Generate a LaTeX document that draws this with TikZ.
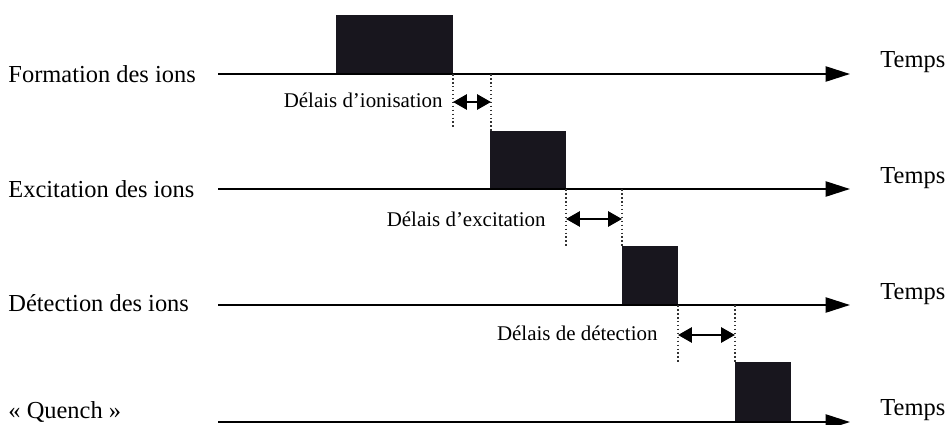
\documentclass[tikz,border=0pt]{standalone}
\usepackage{fontspec}
\setmainfont{Liberation Serif}
\usetikzlibrary{arrows.meta,positioning}
\definecolor{pulsecolor}{RGB}{24,22,30}

\begin{document}
\begin{tikzpicture}[x=0.0151cm,y=-0.0151cm,
        axis/.style={line width=0.9pt,-{Triangle[length=10.5pt,width=6.5pt]}},
        pulse/.style={fill=pulsecolor},
        marker/.style={densely dotted,line width=0.7pt,black!80},
        delay/.style={line width=1.1pt,{Triangle[length=6pt,width=6.5pt]}-{Triangle[length=6pt,width=6.5pt]}},
        rowlabel/.style={anchor=west,inner sep=0pt,font=\fontsize{10.5}{12}\selectfont},
        timelabel/.style={anchor=west,inner sep=0pt,font=\fontsize{10.5}{12}\selectfont},
        delaylabel/.style={anchor=east,inner sep=0pt,font=\fontsize{9}{11}\selectfont}]
                \useasboundingbox (0,0) rectangle (948,424);
                % time axes
                \coordinate (A1) at (218,74);  \coordinate (B1) at (850,74);
                \coordinate (A2) at (218,189); \coordinate (B2) at (850,189);
                \coordinate (A3) at (218,305); \coordinate (B3) at (850,305);
                \coordinate (A4) at (218,422); \coordinate (B4) at (850,422);
                \node[rowlabel] (formation) at (8,74) {Formation des ions};
                \node[rowlabel] (excitation) at (8,189) {Excitation des ions};
                \node[rowlabel] (detection) at (8,303) {Détection des ions};
                \node[rowlabel] (quench) at (8,412) {« Quench »};
                \node[timelabel] (temps1) at (880,62) {Temps};
                \node[timelabel] (temps2) at (880,178) {Temps};
                \node[timelabel] (temps3) at (880,294) {Temps};
                \node[timelabel] (temps4) at (880,410) {Temps};
                % pulses
                \fill[pulse] (336,15) rectangle (453,74);
                \fill[pulse] (490,131) rectangle (566,189);
                \fill[pulse] (622,246) rectangle (678,305);
                \fill[pulse] (735,362) rectangle (791,422);
                \draw[axis] (A1) -- (B1);
                \draw[axis] (A2) -- (B2);
                \draw[axis] (A3) -- (B3);
                \draw[axis] (A4) -- (B4);
                % delays
                \coordinate (ion1) at (453,74);  \coordinate (ion2) at (453,128);
                \coordinate (ion3) at (491,74);  \coordinate (ion4) at (491,131);
                \coordinate (exc1) at (566,189); \coordinate (exc2) at (566,246);
                \coordinate (exc3) at (622,189); \coordinate (exc4) at (622,246);
                \coordinate (det1) at (678,305); \coordinate (det2) at (678,362);
                \coordinate (det3) at (735,305); \coordinate (det4) at (735,362);
                \draw[marker] (ion1) -- (ion2);
                \draw[marker] (ion3) -- (ion4);
                \draw[marker] (exc1) -- (exc2);
                \draw[marker] (exc3) -- (exc4);
                \draw[marker] (det1) -- (det2);
                \draw[marker] (det3) -- (det4);
                \coordinate (ionL) at (453,102); \coordinate (ionR) at (491,102);
                \coordinate (excL) at (566,219); \coordinate (excR) at (622,219);
                \coordinate (detL) at (678,335); \coordinate (detR) at (735,335);
                \draw[delay] (ionL) -- (ionR);
                \draw[delay] (excL) -- (excR);
                \draw[delay] (detL) -- (detR);
                \node[delaylabel] (ionlabel) at (443,100) {Délais d’ionisation};
                \node[delaylabel] (exclabel) at (546,219) {Délais d’excitation};
                \node[delaylabel] (detlabel) at (658,333) {Délais de détection};
            \end{tikzpicture}
\end{document}
